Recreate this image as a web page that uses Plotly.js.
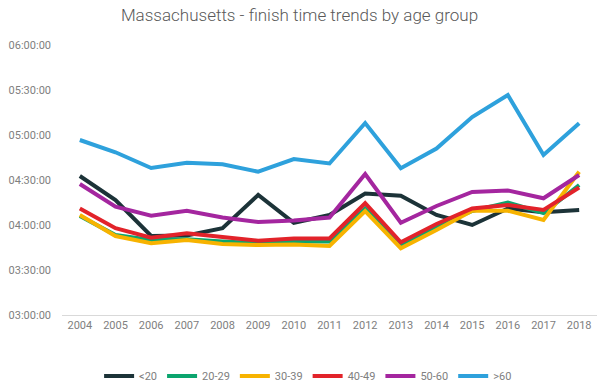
<!DOCTYPE html>
<html>
<head>
<meta charset="utf-8">
<script src="https://cdn.plot.ly/plotly-3.0.1.min.js"></script>
<style>html,body{margin:0;padding:0;background:#fff;}#chart{width:599px;height:383px;}</style>
</head>
<body>
<div id="chart"></div>
<script>
const years = ["2004","2005","2006","2007","2008","2009","2010","2011","2012","2013","2014","2015","2016","2017","2018"];
const under20 = ["04:32:40","04:16:40","03:52:40","03:53:00","03:57:50","04:20:00","04:01:30","04:06:40","04:21:00","04:19:30","04:06:40","04:00:00","04:11:00","04:08:30","04:10:00"];
const age20_29 = ["04:06:00","03:53:20","03:50:00","03:50:30","03:49:00","03:48:00","03:49:00","03:49:00","04:11:00","03:46:40","03:59:00","04:09:20","04:15:00","04:08:00","04:26:40"];
const age30_39 = ["04:06:40","03:52:40","03:47:50","03:50:00","03:47:20","03:46:40","03:47:00","03:46:00","04:09:20","03:44:30","03:56:40","04:09:30","04:09:30","04:03:20","04:35:30"];
const age40_49 = ["04:11:00","03:57:50","03:51:30","03:54:30","03:52:00","03:49:30","03:51:00","03:51:00","04:14:30","03:48:30","04:00:40","04:11:00","04:13:20","04:10:00","04:25:00"];
const age50_60 = ["04:27:20","04:12:10","04:06:10","04:09:30","04:05:00","04:02:00","04:03:00","04:05:00","04:34:00","04:01:30","04:12:40","04:22:00","04:23:00","04:17:50","04:33:20"];
const over60 = ["04:56:40","04:48:30","04:38:00","04:41:30","04:40:30","04:35:30","04:44:00","04:41:00","05:08:00","04:37:50","04:51:00","05:12:00","05:26:40","04:46:40","05:07:50"];
const seriesNames = ["<20","20-29","30-39","40-49","50-60",">60"];
const colors = ["#1c3338","#0ba56e","#f7b300","#e2232a","#a4269f","#2ea1dc"];

const allSeries = [under20, age20_29, age30_39, age40_49, age50_60, over60];
const toDate = s => "1970-01-01 " + s;
const traces = allSeries.map((vals, i) => ({
  type: "scatter",
  mode: "lines",
  name: seriesNames[i],
  x: years,
  y: vals.map(toDate),
  line: {color: colors[i], width: 4}
}));

const layout = {
  width: 599, height: 383,
  margin: {l: 62, r: 2, t: 45, b: 68, autoexpand: false},
  paper_bgcolor: "#fff", plot_bgcolor: "#fff",
  font: {family: "Roboto, sans-serif", color: "#808080", size: 11},
  title: {text: "Massachusetts - finish time trends by age group", font: {family: "Roboto, sans-serif", size: 17, color: "#595959", weight: 300}, x: 0.5, xanchor: "center", y: 0.96, yanchor: "middle"},
  xaxis: {type: "category", range: [-0.5, 14.5], showgrid: false, showline: true, linecolor: "#d9d9d9", linewidth: 1, ticks: "", tickfont: {size: 11, color: "#808080"}, zeroline: false, fixedrange: true},
  yaxis: {type: "date", range: ["1970-01-01 03:00:00", "1970-01-01 06:00:00"], dtick: 1800000, tick0: "1970-01-01 03:00:00", tickformat: "%H:%M:%S", showgrid: false, zeroline: false, showline: false, ticks: "", ticklabelstandoff: 10, tickfont: {size: 11, color: "#808080"}, fixedrange: true},
  showlegend: true,
  legend: {orientation: "h", x: 0.46, xanchor: "center", yref: "container", y: 0.018, yanchor: "middle", font: {size: 11, color: "#808080"}, itemwidth: 30, tracegroupgap: 0}
};

Plotly.newPlot("chart", traces, layout, {displayModeBar: false, staticPlot: true});
</script>
</body>
</html>
